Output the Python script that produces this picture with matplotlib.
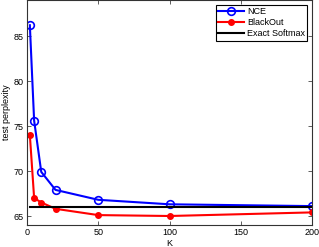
import matplotlib.pyplot as plt

plt.rcParams['font.family'] = ['Liberation Sans', 'DejaVu Sans']

K = [2, 5, 10, 20, 50, 100, 200]
nce = [86.2, 75.6, 69.9, 67.9, 66.8, 66.3, 66.1]
blackout = [74.0, 67.0, 66.5, 65.8, 65.1, 65.0, 65.4]
softmax_x = [2, 200]
softmax = [66.05, 66.05]

fig = plt.figure(figsize=(3.19, 2.47), dpi=100)
ax = fig.add_axes([27 / 319, 22 / 247, 285 / 319, 225 / 247])

ax.plot(K, nce, color='blue', marker='o', markersize=5.5, markerfacecolor='none',
        markeredgewidth=1.2, linewidth=1.5, label='NCE')
ax.plot(K, blackout, color='red', marker='o', markersize=4, linewidth=1.5,
        label='BlackOut')
ax.plot(softmax_x, softmax, color='black', linewidth=1.5, label='Exact Softmax')

ax.set_xlim(0, 200)
ax.set_ylim(64, 89)
ax.set_xticks([0, 50, 100, 150, 200])
ax.set_yticks([65, 70, 75, 80, 85])
ax.tick_params(direction='in', top=True, right=True, labelsize=6.5, length=3,
               width=0.6, color='#444444', pad=2.5)
for s in ax.spines.values():
    s.set_linewidth(0.8)
    s.set_color('#333333')

# etykiety osi ustawione recznie, zeby nie wychodzily poza obrazek
ax.set_xlabel('K', fontsize=6.5, va='center')
ax.set_ylabel('test perplexity', fontsize=6.5, va='center')
ax.xaxis.set_label_coords(0.5, -0.08)
ax.yaxis.set_label_coords(-0.072, 0.5)

leg = ax.legend(loc='upper right', fontsize=6.5, frameon=True, fancybox=False,
                edgecolor='black', framealpha=1, handlelength=2.9,
                borderpad=0.25, labelspacing=0.25, handletextpad=0.3,
                borderaxespad=0.0, bbox_to_anchor=(0.9825, 0.979))
leg.get_frame().set_linewidth(0.8)

fig.savefig('out.png', dpi=100)
